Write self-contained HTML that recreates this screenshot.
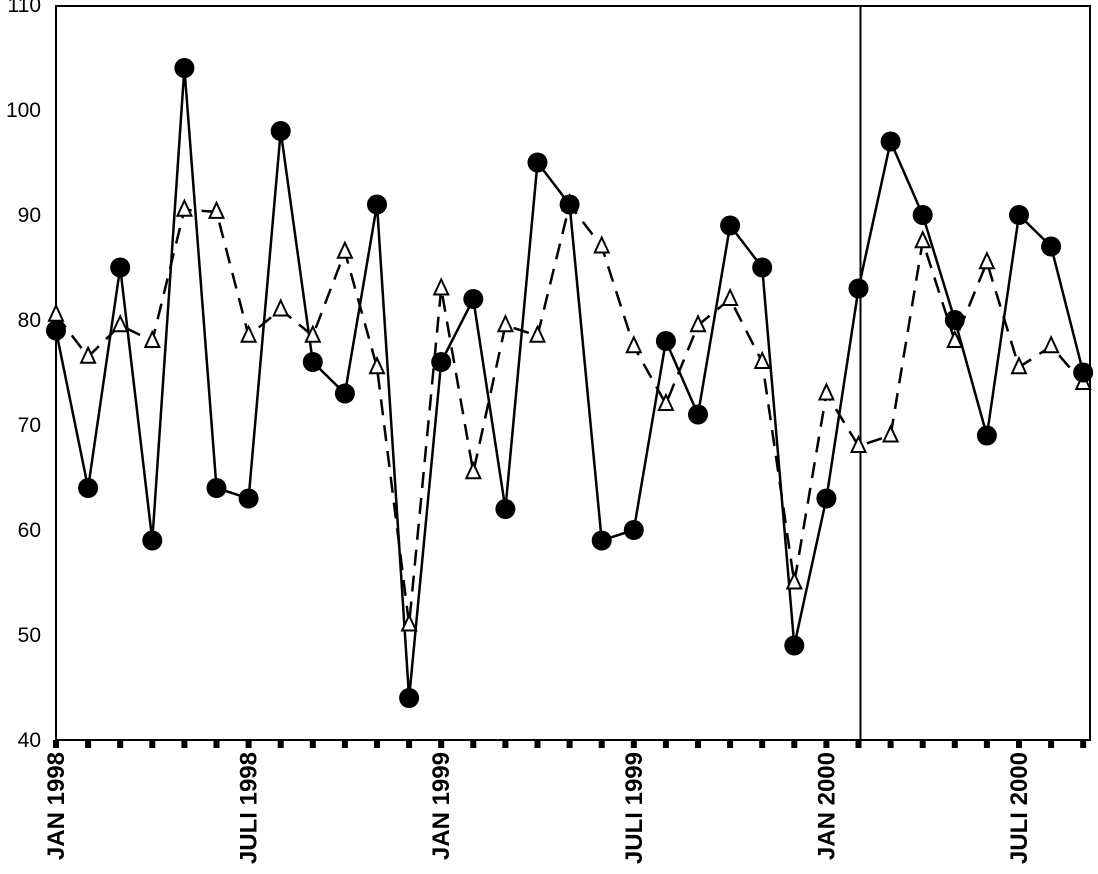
<!DOCTYPE html>
<html><head><meta charset="utf-8"><style>
body{margin:0;background:#fff;}
svg{display:block;font-family:"Liberation Sans",sans-serif;}
</style></head><body>
<svg id="chart" width="1098" height="874" viewBox="0 0 1098 874">
<rect x="56" y="6" width="1034" height="734" fill="none" stroke="#000" stroke-width="2"/>
<g id="axes"></g>
<g id="series"></g>
</svg>
<script>
const months = Array.from({length:33},(_,i)=>i);
const tickLabels = ["JAN 1998","JULI 1998","JAN 1999","JULI 1999","JAN 2000","JULI 2000"];
const tickLabelMonths = [0,6,12,18,24,30];
const yTicks = [40,50,60,70,80,90,100,110];
const seriesCircle = [79,64,85,59,104,64,63,98,76,73,91,44,76,82,62,95,91,59,60,78,71,89,85,49,63,83,97,90,80,69,90,87,75];
const seriesTriangle = [80.5,76.5,79.5,78,90.5,90.3,78.5,81,78.5,86.5,75.5,51,83,65.5,79.5,78.5,91,87,77.5,72,79.5,82,76,55,73,68,69,87.5,78,85.5,75.5,77.5,74];
const markerLineMonth = 25;

const NS="http://www.w3.org/2000/svg";
const x = m => 56 + m*32.1;
const y = v => 740 - (v-40)*10.5;
function mk(tag,attrs,parent){const e=document.createElementNS(NS,tag);for(const k in attrs)e.setAttribute(k,attrs[k]);parent.appendChild(e);return e;}
const axes=document.getElementById('axes'), ser=document.getElementById('series');

yTicks.forEach(v=>{
  const t=mk('text',{x:41,y:y(v)+7,'text-anchor':'end','font-size':21},axes);
  t.textContent=v;
  
  
});
months.forEach(m=>{
  const r=mk('rect',{x:x(m)-3,y:740,width:6,height:8,fill:'#000'},axes);
  
  
});
tickLabels.forEach((lab,i)=>{
  const px=x(tickLabelMonths[i])+8, py=752;
  const t=mk('text',{x:px,y:py,'text-anchor':'end','font-size':24,'font-weight':'bold',transform:`rotate(-90 ${px} ${py})`},axes);
  t.textContent=lab;
  
  
});
const vl=mk('line',{x1:x(markerLineMonth)+2,x2:x(markerLineMonth)+2,y1:6,y2:740,stroke:'#000','stroke-width':2},axes);



const tp=mk('polyline',{points:seriesTriangle.map((v,i)=>x(i)+','+y(v)).join(' '),fill:'none',stroke:'#000','stroke-width':2.5,'stroke-dasharray':'16 10'},ser);


const cp=mk('polyline',{points:seriesCircle.map((v,i)=>x(i)+','+y(v)).join(' '),fill:'none',stroke:'#000','stroke-width':2.5},ser);


seriesTriangle.forEach((v,i)=>{
  const cx=x(i), cy=y(v);
  const p=mk('polygon',{points:`${cx},${cy-9} ${cx-7},${cy+6} ${cx+7},${cy+6}`,fill:'#fff',stroke:'#000','stroke-width':2},ser);
  
  
});
seriesCircle.forEach((v,i)=>{
  const c=mk('circle',{cx:x(i),cy:y(v),r:10,fill:'#000'},ser);
  
  
});
</script>
</body></html>
